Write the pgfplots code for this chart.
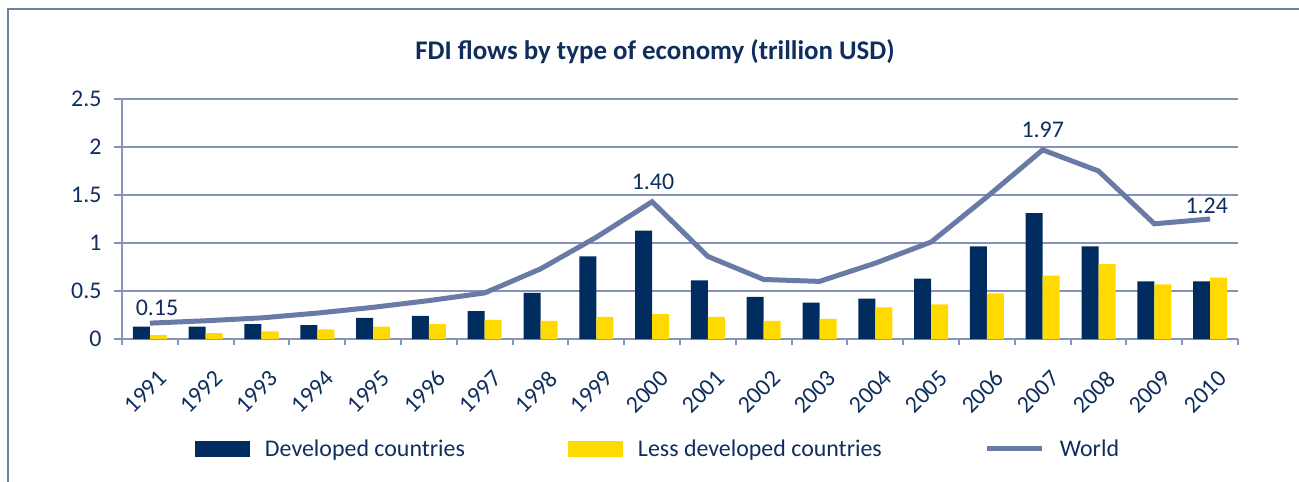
\documentclass[border=0pt]{standalone}
\usepackage{pgfplots}
\usepackage{pgfplotstable}
\pgfplotsset{compat=1.18}
\usepackage{fontspec}
\setmainfont{Carlito}
\definecolor{navy}{HTML}{002C5F}
\definecolor{gold}{HTML}{FFDA00}
\definecolor{worldc}{HTML}{6A7AA6}
\definecolor{gridc}{HTML}{8594B8}
\definecolor{txt}{HTML}{0F2E5E}
\definecolor{framec}{HTML}{6E7FA3}
\pgfplotstableread{
x dev ldc world
0 0.13 0.04 0.165
1 0.13 0.06 0.19
2 0.155 0.08 0.22
3 0.145 0.10 0.27
4 0.22 0.13 0.33
5 0.24 0.155 0.40
6 0.29 0.20 0.48
7 0.48 0.19 0.73
8 0.86 0.23 1.06
9 1.13 0.26 1.43
10 0.61 0.23 0.86
11 0.44 0.19 0.62
12 0.38 0.21 0.60
13 0.42 0.33 0.79
14 0.63 0.36 1.01
15 0.965 0.475 1.48
16 1.31 0.66 1.97
17 0.965 0.78 1.75
18 0.60 0.57 1.20
19 0.60 0.64 1.25
}\data
\begin{document}
\begin{tikzpicture}
\path[use as bounding box] (-122bp,-143bp) rectangle (1177bp,339bp);
\draw[framec, line width=1.7bp] (-114bp,-150bp) -- (-114bp,330bp) -- (1190bp,330bp);
\node[txt, font=\fontsize{27}{32}\selectfont\bfseries, anchor=base] at (533bp,279bp) {FDI flows by type of economy (trillion USD)};
\begin{axis}[
  at={(0bp,0bp)}, anchor=south west,
  scale only axis, width=1116bp, height=240bp,
  xmin=-0.5, xmax=19.5, ymin=0, ymax=2.5,
  axis x line*=bottom, axis y line*=left,
  axis line style={gridc, line width=2bp, -},
  ytick={0,0.5,1,1.5,2,2.5},
  yticklabels={0,0.5,1,1.5,2,2.5},
  ymajorgrids, grid style={gridc, line width=2bp},
  xtick={0,...,19},
  xticklabels={1991,1992,1993,1994,1995,1996,1997,1998,1999,2000,2001,2002,2003,2004,2005,2006,2007,2008,2009,2010},
  minor xtick={-0.5,0.5,...,19.5},
  tick align=outside, major tick length=8bp, minor tick length=6bp,
  tick style={gridc, line width=2bp},
  major x tick style={draw=none},
  /pgf/number format/assume math mode=true,
  ticklabel style={txt, font=\fontsize{24}{28}\selectfont},
  yticklabel style={xshift=-9bp},
  xticklabel style={xshift=7bp, yshift=-17bp, rotate=45, anchor=north east},
  legend columns=3,
  legend style={at={(0.0654,-0.4583)}, anchor=west, draw=none, fill=none,
    inner sep=0pt, outer sep=0pt, font=\fontsize{24}{28}\selectfont, text=txt,
    nodes={inner sep=0pt},
    /tikz/every odd column/.append style={column sep=15bp},
    /tikz/every even column/.append style={column sep=103bp}},
  legend cell align=left,
]
\addplot[ybar, bar width=17bp, bar shift=-8.5bp, fill=navy, draw=none,
  legend image code/.code={\fill[navy] (0bp,-8.3bp) rectangle (55bp,8.3bp);}]
  table[x=x,y=dev]{\data};
\addlegendentry{Developed countries}
\addplot[ybar, bar width=17bp, bar shift=8.5bp, fill=gold, draw=none,
  legend image code/.code={\fill[gold] (0bp,-8.3bp) rectangle (55bp,8.3bp);}]
  table[x=x,y=ldc]{\data};
\addlegendentry{Less developed countries}
\addplot[worldc, line width=5bp, mark=none,
  legend image code/.code={\draw[worldc, line width=5bp] (0bp,0bp) -- (55bp,0bp);}]
  table[x=x,y=world]{\data};
\addlegendentry{World}
\node[txt, font=\fontsize{24}{28}\selectfont] at (axis cs:0.127,0.328) {0.15};
\node[txt, font=\fontsize{24}{28}\selectfont] at (axis cs:9.016,1.635) {1.40};
\node[txt, font=\fontsize{24}{28}\selectfont] at (axis cs:16,2.18) {1.97};
\node[txt, font=\fontsize{24}{28}\selectfont] at (axis cs:18.94,1.39) {1.24};
\end{axis}
\end{tikzpicture}
\end{document}
